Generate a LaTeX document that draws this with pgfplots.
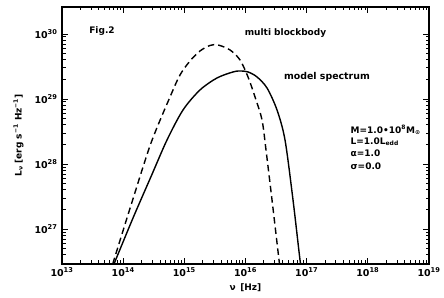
\documentclass[border=0pt]{standalone}
\usepackage{fontspec}
\setmainfont{DejaVu Sans}
\usepackage{pgfplots}
\pgfplotsset{compat=1.18}
\begin{document}
\begin{tikzpicture}
\begin{axis}[
  scale only axis, width=367pt, height=257pt,
  xmode=log, ymode=log,
  xmin=1e13, xmax=1e19, ymin=2.897e26, ymax=2.60e30,
  tick align=inside,
  xtick pos=both, ytick pos=both,
  xticklabel pos=lower, yticklabel pos=left,
  major tick length=6pt, minor tick length=3.5pt,
  every tick/.style={black, line width=0.9pt},
  axis line style={line width=1.5pt},
  /pgf/number format/assume math mode=true,
  xticklabel={\pgfmathtruncatemacro\e{round(\tick/2.302585093)}10\textsuperscript{\e}},
  yticklabel={\pgfmathtruncatemacro\e{round(\tick/2.302585093)}10\textsuperscript{\e}},
  tick label style={font=\fontsize{9.5}{10}\selectfont\bfseries},
  yticklabel style={xshift=-1pt},
  label style={font=\fontsize{9}{10}\selectfont\bfseries},
  xlabel={ν\enspace[Hz]},
  ylabel={L\textsubscript{ν} [erg s\textsuperscript{−1} Hz\textsuperscript{−1}]},
  ylabel shift=4pt,
]
% model spectrum (solid)
\addplot[black, line width=1.4pt, smooth] coordinates {
 (7.081e13,2.897e26) (1.448e14,1.476e27) (2.928e14,6.772e27)
 (5.207e14,2.340e28) (9.511e14,6.772e28) (1.804e15,1.376e29) (3.421e15,2.105e29)
 (6.248e15,2.603e29) (8.130e15,2.697e29) (1.099e16,2.603e29) (1.542e16,2.181e29)
 (2.246e16,1.476e29) (3.273e16,6.772e28) (4.424e16,2.340e28) (5.979e16,2.795e27)
 (7.781e16,3.336e26) (8.081e16,2.897e26)
};
% multi blackbody (dashed)
\addplot[black, line width=1.4pt, smooth, dash pattern=on 6.5pt off 4pt] coordinates {
 (6.742e13,2.897e26) (1.395e14,2.603e27) (2.851e14,2.105e28)
 (5.832e14,1.074e29) (8.495e14,2.340e29) (1.238e15,3.842e29) (1.804e15,5.477e29)
 (2.628e15,6.655e29) (3.551e15,6.773e29) (5.580e15,5.673e29) (8.130e15,3.981e29)
 (1.099e16,2.181e29) (1.430e16,1.074e29) (1.862e16,4.752e28) (2.163e16,1.642e28)
 (2.712e16,2.795e27) (3.530e16,3.336e26) (3.597e16,2.897e26)
};
\node[font=\fontsize{9}{10}\selectfont\bfseries] at (rel axis cs:0.109,0.905) {Fig.2};
\node[font=\fontsize{9}{10}\selectfont\bfseries] at (rel axis cs:0.609,0.897) {multi blockbody};
\node[font=\fontsize{9.4}{10}\selectfont\bfseries] at (rel axis cs:0.722,0.726) {model spectrum};
\node[anchor=west, font=\fontsize{9}{10}\selectfont\bfseries] at (rel axis cs:0.777,0.521) {M=1.0•10\textsuperscript{8}M\textsubscript{⊙}};
\node[anchor=west, font=\fontsize{9}{10}\selectfont\bfseries] at (rel axis cs:0.777,0.475) {L=1.0L\textsubscript{edd}};
\node[anchor=west, font=\fontsize{9}{10}\selectfont\bfseries] at (rel axis cs:0.777,0.430) {α=1.0};
\node[anchor=west, font=\fontsize{9}{10}\selectfont\bfseries] at (rel axis cs:0.777,0.379) {σ=0.0};
\end{axis}
\pgfresetboundingbox
\path (current axis.south west) ++(-62pt,-33pt) coordinate (bl);
\path (current axis.north east) ++(15pt,7pt) coordinate (tr);
\path[use as bounding box] (bl) rectangle (tr);
\end{tikzpicture}
\end{document}
